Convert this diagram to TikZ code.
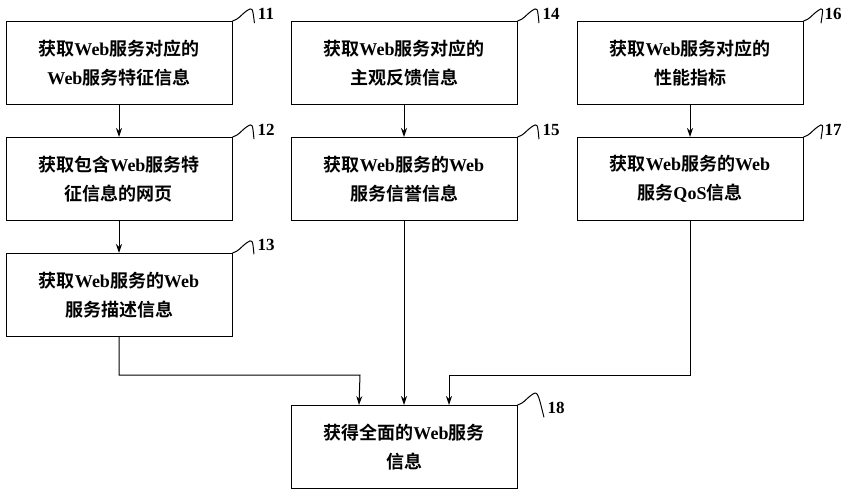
\documentclass[tikz,border=0pt]{standalone}
\usepackage{fontspec}
\setmainfont{Liberation Serif}
\newfontfamily\cjk{Noto Sans CJK SC}[BoldFont={Noto Sans CJK SC Bold}]
\newcommand{\W}[1]{{\rmfamily\bfseries #1}}
\usetikzlibrary{arrows.meta, calc}

\tikzset{
	box/.style={draw, line width=1pt, minimum width=226pt, minimum height=83pt, align=center,
		font=\cjk\bfseries\fontsize{18}{29}\selectfont, inner sep=0pt},
	flow/.style={line width=1pt, -{Stealth[length=9pt, width=6pt]}},
	tag/.style={font=\rmfamily\bfseries\fontsize{17}{20}\selectfont}
}
\newcommand{\hook}[2]{% squiggle from box corner to its number
	\draw[line width=1pt] (#1) .. controls +(8,-3) and +(-8,6) .. ++(14,-10) .. controls +(6,-4) .. (#2);
}

\begin{document}
\begin{tikzpicture}[x=1pt, y=-1pt]
	\useasboundingbox (0,0) rectangle (855,500);
	% first row
	\node[box] (info11) at (119,63) {获取\W{Web}服务对应的\\\W{Web}服务特征信息};
	\node[box] (info14) at (404,63) {获取\W{Web}服务对应的\\主观反馈信息};
	\node[box] (info16) at (690,63) {获取\W{Web}服务对应的\\性能指标};
	% second row
	\node[box] (info12) at (119,179) {获取包含\W{Web}服务特\\征信息的网页};
	\node[box] (info15) at (404,179) {获取\W{Web}服务的\W{Web}\\服务信誉信息};
	\node[box] (info17) at (690,179) {获取\W{Web}服务的\W{Web}\\服务\W{QoS}信息};
	% third row
	\node[box] (info13) at (119,295) {获取\W{Web}服务的\W{Web}\\服务描述信息};
	\node[box] (info18) at (404,447) {获得全面的\W{Web}服务\\信息};

	\node[tag] (t11) at (266,14) {11};
	\node[tag] (t12) at (266,130) {12};
	\node[tag] (t13) at (266,245) {13};
	\node[tag] (t14) at (551,14) {14};
	\node[tag] (t15) at (551,130) {15};
	\node[tag] (t16) at (833,14) {16};
	\node[tag] (t17) at (833,130) {17};
	\node[tag] (t18) at (556,408) {18};

	\hook{info11.north east}{t11.south west}
	\hook{info12.north east}{t12.south west}
	\hook{info13.north east}{t13.south west}
	\hook{info14.north east}{t14.south west}
	\hook{info15.north east}{t15.south west}
	\hook{info16.north east}{t16.south west}
	\hook{info17.north east}{t17.south west}
	\hook{info18.north east}{t18.south west}

	\coordinate (left) at ($(info18.north)+(-45,0)$);
	\coordinate (right) at ($(info18.north)+(45,0)$);
	\draw[flow] (info11) -- (info12);
	\draw[flow] (info12) -- (info13);
	\draw[flow] (info14) -- (info15);
	\draw[flow] (info16) -- (info17);
	\draw[flow] (info15) -- (info18);
	\draw[flow] (info13.south) |- (360,375) -- (left);
	\draw[flow] (info17.south) |- (449,375) -- (right);
\end{tikzpicture}
\end{document}
